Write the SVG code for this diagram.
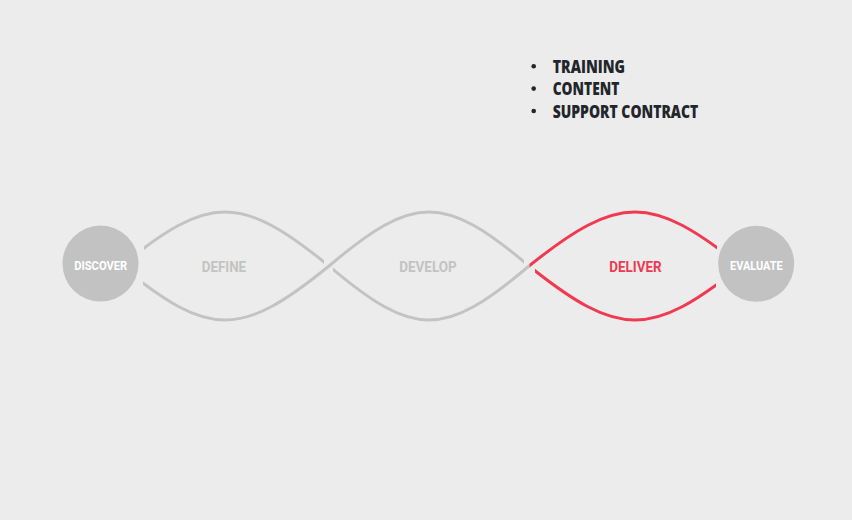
<svg xmlns="http://www.w3.org/2000/svg" width="852" height="520" viewBox="0 0 852 520">
  <style>
    .strand { fill: none; stroke-width: 3; stroke-linecap: butt; }
    .grey { stroke: #c3c3c3; }
    .red { stroke: #ef3a50; }
    .stage { fill: #c2c2c2; }
    .lbl { font-family: Roboto, "Liberation Sans", sans-serif; font-weight: 700; text-anchor: middle; }
    .in-circle { fill: #ffffff; font-size: 13.5px; }
    .phase { font-size: 14.5px; }
    .bullet-txt { font-family: "Open Sans", "Liberation Sans", sans-serif; font-weight: 800; font-size: 17.5px; fill: #22262b; }
  </style>
  <defs>
    <clipPath id="c-define-top"><rect x="144" y="150" width="180" height="220"/></clipPath>
    <clipPath id="c-define-bottom"><rect x="143" y="150" width="381" height="220"/></clipPath>
    <clipPath id="c-develop-bottom"><rect x="333" y="150" width="196.5" height="220"/></clipPath>
    <clipPath id="c-deliver-top"><rect x="529.5" y="150" width="187.5" height="220"/></clipPath>
    <clipPath id="c-deliver-bottom"><rect x="535" y="150" width="181" height="220"/></clipPath>
  </defs>

  <rect x="0" y="0" width="852" height="520" fill="#ececec"/>

  <!-- intertwined strands between the stages -->
  <g id="connectors">
    <path class="strand grey" clip-path="url(#c-define-top)" d="M121,266 C209.3,194 240.7,194 329,266"/>
    <path class="strand grey" clip-path="url(#c-define-bottom)" d="M121,266 C209.3,338 240.7,338 329,266 C413.9,194 444.1,194 529,266"/>
    <path class="strand grey" clip-path="url(#c-develop-bottom)" d="M329,266 C413.9,338 444.1,338 529,266 L531,264.4"/>
    <path class="strand red" clip-path="url(#c-deliver-top)" d="M527,267.6 L529,266 C619,194 651,194 741,266"/>
    <path class="strand red" clip-path="url(#c-deliver-bottom)" d="M529,266 C619,338 651,338 741,266"/>
  </g>

  <g id="discover">
    <circle class="stage" cx="100.5" cy="263.6" r="38"/>
    <text class="lbl in-circle" x="100.7" y="269.5" textLength="53" lengthAdjust="spacingAndGlyphs">DISCOVER</text>
  </g>

  <g id="define">
    <text class="lbl phase" x="223.9" y="271.7" fill="#c3c3c3" textLength="44.3" lengthAdjust="spacingAndGlyphs">DEFINE</text>
  </g>

  <g id="develop">
    <text class="lbl phase" x="428" y="271.7" fill="#c3c3c3" textLength="57.4" lengthAdjust="spacingAndGlyphs">DEVELOP</text>
  </g>

  <g id="deliver">
    <text class="lbl phase" x="635.5" y="271.7" fill="#ef3a50" textLength="52.4" lengthAdjust="spacingAndGlyphs">DELIVER</text>
    <g id="deliver-items">
      <circle cx="533.7" cy="66.3" r="2.3" fill="#22262b"/>
      <circle cx="533.7" cy="88.6" r="2.3" fill="#22262b"/>
      <circle cx="533.7" cy="111" r="2.3" fill="#22262b"/>
      <text class="bullet-txt" x="552.7" y="72.6" textLength="72.3" lengthAdjust="spacingAndGlyphs">TRAINING</text>
      <text class="bullet-txt" x="552.7" y="94.9" textLength="66.6" lengthAdjust="spacingAndGlyphs">CONTENT</text>
      <text class="bullet-txt" x="552.7" y="117.5" textLength="145.6" lengthAdjust="spacingAndGlyphs">SUPPORT CONTRACT</text>
    </g>
  </g>

  <g id="evaluate">
    <circle class="stage" cx="756.2" cy="263.8" r="38"/>
    <text class="lbl in-circle" x="756.4" y="270" textLength="52.7" lengthAdjust="spacingAndGlyphs">EVALUATE</text>
  </g>
</svg>
